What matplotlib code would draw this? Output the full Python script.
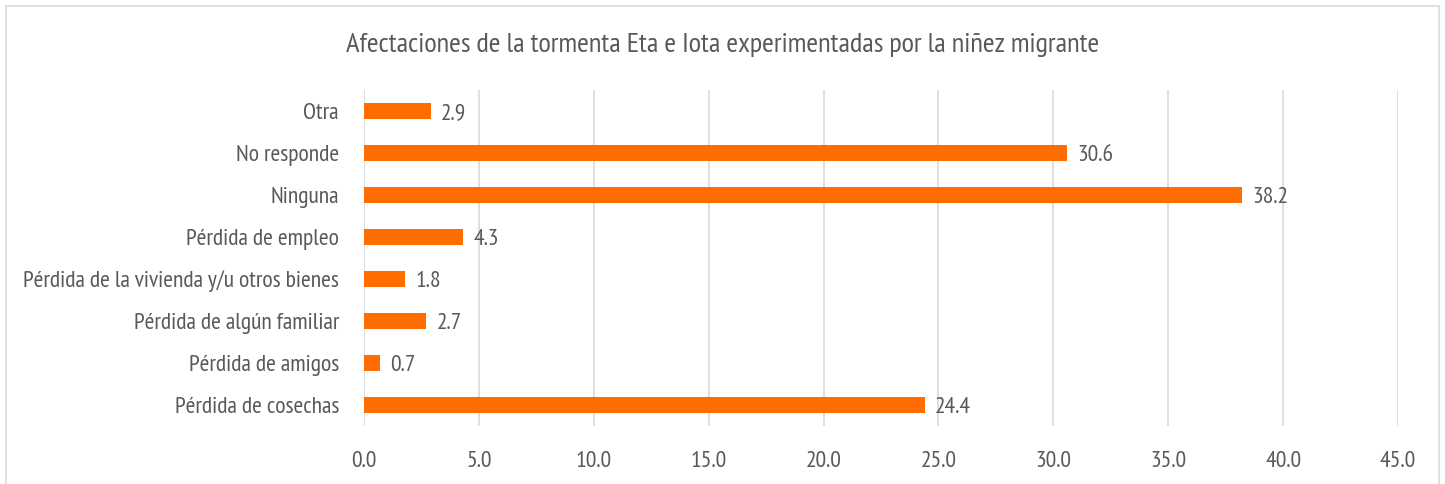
import matplotlib
matplotlib.use("Agg")
import matplotlib.pyplot as plt
from matplotlib.patches import Rectangle

plt.rcParams['font.family'] = ['PT Sans Narrow', 'Fira Sans Condensed', 'Archivo Narrow', 'DejaVu Sans']

categorias = ["Otra", "No responde", "Ninguna", "Pérdida de empleo",
              "Pérdida de la vivienda y/u otros bienes", "Pérdida de algún familiar",
              "Pérdida de amigos", "Pérdida de cosechas"]
valores = [2.9, 30.6, 38.2, 4.3, 1.8, 2.7, 0.7, 24.4]
xticks = [0, 5, 10, 15, 20, 25, 30, 35, 40, 45]

gris = '#595959'
naranja = '#FF6D00'

fig = plt.figure(figsize=(14.45, 4.84), dpi=100)
ax = fig.add_axes([364/1445, 1-426/484, 1034/1445, 336/484])

y = list(range(len(categorias)))
ax.barh(y, valores, height=0.36, color=naranja, zorder=3)
for yi, v in zip(y, valores):
    ax.text(v + 0.45, yi + 0.06, f"{v:.1f}", va='center', ha='left', fontsize=17, color=gris)

ax.set_yticks(y)
ax.set_yticklabels(categorias, fontsize=17, color=gris)
ax.set_ylim(len(categorias) - 0.5, -0.5)
ax.set_xlim(0, 45)
ax.set_xticks(xticks)
ax.set_xticklabels([f"{t:.1f}" for t in xticks], fontsize=17, color=gris)
ax.tick_params(axis='both', length=0)
ax.tick_params(axis='x', pad=18)
ax.tick_params(axis='y', pad=18)
ax.grid(axis='x', color='#d9d9d9', linewidth=1.2, zorder=0)
for s in ax.spines.values():
    s.set_visible(False)

fig.text(0.5, 1-45/484, "Afectaciones de la tormenta Eta e Iota experimentadas por la niñez migrante",
         ha='center', va='center', fontsize=20.5, color=gris)

fig.patches.append(Rectangle((6/1445, -0.05), 1433/1445, 1.05 - 6/484, transform=fig.transFigure,
                             fill=False, edgecolor='#d9d9d9', linewidth=1.2))

fig.savefig("out.png", dpi=100)
